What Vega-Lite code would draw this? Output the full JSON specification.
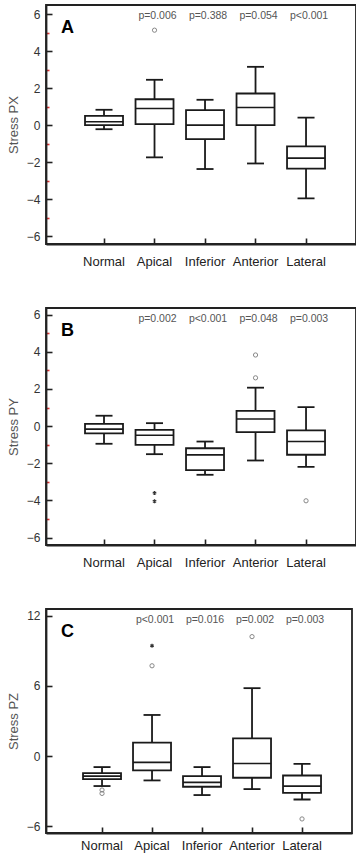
{
  "$schema": "https://vega.github.io/schema/vega-lite/v6.json",
  "padding": {"left": 6, "top": 4, "right": 0, "bottom": 0},
  "background": "white",
  "spacing": 38,
  "config": {
    "font": "Liberation Sans",
    "view": {"stroke": "#222", "strokeWidth": 1.8},
    "axis": {"domainColor": "#222", "domainWidth": 1.8, "tickColor": "#222", "tickWidth": 1.6, "labelFont": "Liberation Sans", "titleFont": "Liberation Sans", "grid": false},
    "title": {"font": "Liberation Sans"},
    "tick": {"opacity": 1},
    "point": {"opacity": 1}
  },
  "datasets": {
    "boxes": [
      {"panel": "A", "cat": "Normal", "lo": -0.22, "q1": 0.0, "med": 0.18, "q3": 0.5, "hi": 0.83},
      {"panel": "A", "cat": "Apical", "lo": -1.74, "q1": 0.05, "med": 0.9, "q3": 1.4, "hi": 2.45},
      {"panel": "A", "cat": "Inferior", "lo": -2.37, "q1": -0.76, "med": 0.0, "q3": 0.81, "hi": 1.37},
      {"panel": "A", "cat": "Anterior", "lo": -2.07, "q1": 0.0, "med": 0.95, "q3": 1.71, "hi": 3.15},
      {"panel": "A", "cat": "Lateral", "lo": -3.96, "q1": -2.35, "med": -1.78, "q3": -1.15, "hi": 0.41},
      {"panel": "B", "cat": "Normal", "lo": -0.95, "q1": -0.39, "med": -0.16, "q3": 0.12, "hi": 0.56},
      {"panel": "B", "cat": "Apical", "lo": -1.51, "q1": -1.01, "med": -0.49, "q3": -0.2, "hi": 0.16},
      {"panel": "B", "cat": "Inferior", "lo": -2.62, "q1": -2.37, "med": -1.55, "q3": -1.19, "hi": -0.83},
      {"panel": "B", "cat": "Anterior", "lo": -1.85, "q1": -0.32, "med": 0.38, "q3": 0.82, "hi": 2.07},
      {"panel": "B", "cat": "Lateral", "lo": -2.19, "q1": -1.54, "med": -0.83, "q3": -0.23, "hi": 1.02},
      {"panel": "C", "cat": "Normal", "lo": -2.56, "q1": -1.97, "med": -1.71, "q3": -1.45, "hi": -0.94},
      {"panel": "C", "cat": "Apical", "lo": -2.08, "q1": -1.22, "med": -0.54, "q3": 1.14, "hi": 3.51},
      {"panel": "C", "cat": "Inferior", "lo": -3.33, "q1": -2.62, "med": -2.25, "q3": -1.71, "hi": -0.94},
      {"panel": "C", "cat": "Anterior", "lo": -2.82, "q1": -1.85, "med": -0.63, "q3": 1.51, "hi": 5.8},
      {"panel": "C", "cat": "Lateral", "lo": -3.71, "q1": -3.14, "med": -2.57, "q3": -1.66, "hi": -0.66}
    ],
    "outliers": [
      {"panel": "A", "cat": "Apical", "v": 5.13, "kind": "circle"},
      {"panel": "B", "cat": "Apical", "v": -3.6, "kind": "star"},
      {"panel": "B", "cat": "Apical", "v": -4.05, "kind": "star"},
      {"panel": "B", "cat": "Anterior", "v": 3.83, "kind": "circle"},
      {"panel": "B", "cat": "Anterior", "v": 2.6, "kind": "circle"},
      {"panel": "B", "cat": "Lateral", "v": -4.02, "kind": "circle"},
      {"panel": "C", "cat": "Normal", "v": -2.9, "kind": "circle"},
      {"panel": "C", "cat": "Normal", "v": -3.19, "kind": "circle"},
      {"panel": "C", "cat": "Apical", "v": 7.71, "kind": "circle"},
      {"panel": "C", "cat": "Apical", "v": 9.43, "kind": "star"},
      {"panel": "C", "cat": "Anterior", "v": 10.2, "kind": "circle"},
      {"panel": "C", "cat": "Lateral", "v": -5.37, "kind": "circle"}
    ],
    "pvals": [
      {"panel": "A", "cat": "Apical", "label": "p=0.006"},
      {"panel": "A", "cat": "Inferior", "label": "p=0.388"},
      {"panel": "A", "cat": "Anterior", "label": "p=0.054"},
      {"panel": "A", "cat": "Lateral", "label": "p<0.001"},
      {"panel": "B", "cat": "Apical", "label": "p=0.002"},
      {"panel": "B", "cat": "Inferior", "label": "p<0.001"},
      {"panel": "B", "cat": "Anterior", "label": "p=0.048"},
      {"panel": "B", "cat": "Lateral", "label": "p=0.003"},
      {"panel": "C", "cat": "Apical", "label": "p<0.001"},
      {"panel": "C", "cat": "Inferior", "label": "p=0.016"},
      {"panel": "C", "cat": "Anterior", "label": "p=0.002"},
      {"panel": "C", "cat": "Lateral", "label": "p=0.003"}
    ]
  },
  "vconcat": [
    {
      "width": 310, "height": 239,
      "title": {"text": "A", "anchor": "start", "orient": "top", "frame": "group", "offset": -46, "dx": 15, "fontSize": 18, "fontWeight": "bold", "color": "#000", "baseline": "alphabetic"},
      "resolve": {"axis": {"y": "independent"}},
      "encoding": {
        "x": {"field": "cat", "type": "nominal", "scale": {"domain": ["Normal", "Apical", "Inferior", "Anterior", "Lateral"], "paddingInner": 0, "paddingOuter": 0.569, "align": 0.57}, "axis": {"title": null, "labelAngle": 0, "tickSize": -6, "labelPadding": 17, "labelFontSize": 13, "labelColor": "#222"}}
      },
      "layer": [
        {"data": {"name": "boxes"}, "transform": [{"filter": "datum.panel === 'A'"}], "mark": {"type": "rule", "color": "#1a1a1a", "strokeWidth": 1.8},
         "encoding": {"y": {"field": "lo", "type": "quantitative", "scale": {"domain": [-6.42, 6.49], "nice": false, "zero": false},
           "axis": {"orient": "left", "title": "Stress PX", "values": [-6, -5, -4, -3, -2, -1, 0, 1, 2, 3, 4, 5, 6], "labelExpr": "(datum.value + 6) % 4 === 0 ? datum.label : ''", "tickColor": {"condition": {"test": "datum.value % 2 !== 0", "value": "#d33"}, "value": "#222"}, "tickSize": {"condition": {"test": "datum.value % 2 !== 0", "value": -3}, "value": -6}, "labelPadding": 12, "labelFontSize": 12, "labelColor": "#333", "titleFontSize": 13, "titleFontWeight": "normal", "titleColor": "#555", "titlePadding": 6}},
           "y2": {"field": "hi"}}},
        {"data": {"name": "boxes"}, "transform": [{"filter": "datum.panel === 'A'"}], "mark": {"type": "bar", "width": 38, "fill": "white", "stroke": "#1a1a1a", "strokeWidth": 1.8},
         "encoding": {"y": {"field": "q1", "type": "quantitative", "axis": {"orient": "left", "title": null, "values": [-4, 0, 4], "domain": false, "tickColor": "transparent", "tickSize": -6, "labelPadding": 12, "labelFontSize": 12, "labelColor": "#333"}}, "y2": {"field": "q3"}}},
        {"data": {"name": "boxes"}, "transform": [{"filter": "datum.panel === 'A'"}], "mark": {"type": "tick", "size": 38, "thickness": 1.6, "color": "#1a1a1a", "opacity": 1},
         "encoding": {"y": {"field": "med", "type": "quantitative", "axis": null}}},
        {"data": {"name": "boxes"}, "transform": [{"filter": "datum.panel === 'A'"}], "mark": {"type": "tick", "size": 17, "thickness": 1.8, "color": "#1a1a1a", "opacity": 1},
         "encoding": {"y": {"field": "lo", "type": "quantitative", "axis": null}}},
        {"data": {"name": "boxes"}, "transform": [{"filter": "datum.panel === 'A'"}], "mark": {"type": "tick", "size": 17, "thickness": 1.8, "color": "#1a1a1a", "opacity": 1},
         "encoding": {"y": {"field": "hi", "type": "quantitative", "axis": null}}},
        {"data": {"name": "outliers"}, "transform": [{"filter": "datum.panel === 'A' && datum.kind === 'circle'"}], "mark": {"type": "point", "shape": "circle", "filled": false, "stroke": "#888", "strokeWidth": 1, "size": 18},
         "encoding": {"y": {"field": "v", "type": "quantitative", "axis": null}}},
        {"data": {"name": "pvals"}, "transform": [{"filter": "datum.panel === 'A'"}], "mark": {"type": "text", "fontSize": 10.5, "color": "#555", "dx": 3, "baseline": "middle"},
         "encoding": {"y": {"datum": 5.9, "type": "quantitative", "axis": null}, "text": {"field": "label"}}}
      ]
    },
    {
      "width": 310, "height": 237,
      "title": {"text": "B", "anchor": "start", "orient": "top", "frame": "group", "offset": -46, "dx": 15, "fontSize": 18, "fontWeight": "bold", "color": "#000", "baseline": "alphabetic"},
      "resolve": {"axis": {"y": "independent"}},
      "encoding": {
        "x": {"field": "cat", "type": "nominal", "scale": {"domain": ["Normal", "Apical", "Inferior", "Anterior", "Lateral"], "paddingInner": 0, "paddingOuter": 0.569, "align": 0.57}, "axis": {"title": null, "labelAngle": 0, "tickSize": -6, "labelPadding": 17, "labelFontSize": 13, "labelColor": "#222"}}
      },
      "layer": [
        {"data": {"name": "boxes"}, "transform": [{"filter": "datum.panel === 'B'"}], "mark": {"type": "rule", "color": "#1a1a1a", "strokeWidth": 1.8},
         "encoding": {"y": {"field": "lo", "type": "quantitative", "scale": {"domain": [-6.4, 6.36], "nice": false, "zero": false},
           "axis": {"orient": "left", "title": "Stress PY", "values": [-6, -5, -4, -3, -2, -1, 0, 1, 2, 3, 4, 5, 6], "labelExpr": "(datum.value + 6) % 4 === 0 ? datum.label : ''", "tickColor": {"condition": {"test": "datum.value % 2 !== 0", "value": "#d33"}, "value": "#222"}, "tickSize": {"condition": {"test": "datum.value % 2 !== 0", "value": -3}, "value": -6}, "labelPadding": 12, "labelFontSize": 12, "labelColor": "#333", "titleFontSize": 13, "titleFontWeight": "normal", "titleColor": "#555", "titlePadding": 6}},
           "y2": {"field": "hi"}}},
        {"data": {"name": "boxes"}, "transform": [{"filter": "datum.panel === 'B'"}], "mark": {"type": "bar", "width": 38, "fill": "white", "stroke": "#1a1a1a", "strokeWidth": 1.8},
         "encoding": {"y": {"field": "q1", "type": "quantitative", "axis": {"orient": "left", "title": null, "values": [-4, 0, 4], "domain": false, "tickColor": "transparent", "tickSize": -6, "labelPadding": 12, "labelFontSize": 12, "labelColor": "#333"}}, "y2": {"field": "q3"}}},
        {"data": {"name": "boxes"}, "transform": [{"filter": "datum.panel === 'B'"}], "mark": {"type": "tick", "size": 38, "thickness": 1.6, "color": "#1a1a1a", "opacity": 1},
         "encoding": {"y": {"field": "med", "type": "quantitative", "axis": null}}},
        {"data": {"name": "boxes"}, "transform": [{"filter": "datum.panel === 'B'"}], "mark": {"type": "tick", "size": 17, "thickness": 1.8, "color": "#1a1a1a", "opacity": 1},
         "encoding": {"y": {"field": "lo", "type": "quantitative", "axis": null}}},
        {"data": {"name": "boxes"}, "transform": [{"filter": "datum.panel === 'B'"}], "mark": {"type": "tick", "size": 17, "thickness": 1.8, "color": "#1a1a1a", "opacity": 1},
         "encoding": {"y": {"field": "hi", "type": "quantitative", "axis": null}}},
        {"data": {"name": "outliers"}, "transform": [{"filter": "datum.panel === 'B' && datum.kind === 'circle'"}], "mark": {"type": "point", "shape": "circle", "filled": false, "stroke": "#888", "strokeWidth": 1, "size": 18},
         "encoding": {"y": {"field": "v", "type": "quantitative", "axis": null}}},
        {"data": {"name": "outliers"}, "transform": [{"filter": "datum.panel === 'B' && datum.kind === 'star'"}], "mark": {"type": "point", "shape": "M0,-1L0,1M-0.87,-0.5L0.87,0.5M-0.87,0.5L0.87,-0.5", "filled": false, "stroke": "#333", "strokeWidth": 1.2, "size": 16},
         "encoding": {"y": {"field": "v", "type": "quantitative", "axis": null}}},
        {"data": {"name": "pvals"}, "transform": [{"filter": "datum.panel === 'B'"}], "mark": {"type": "text", "fontSize": 10.5, "color": "#555", "dx": 3, "baseline": "middle"},
         "encoding": {"y": {"datum": 5.77, "type": "quantitative", "axis": null}, "text": {"field": "label"}}}
      ]
    },
    {
      "width": 306, "height": 224,
      "title": {"text": "C", "anchor": "start", "orient": "top", "frame": "group", "offset": -46, "dx": 15, "fontSize": 18, "fontWeight": "bold", "color": "#000", "baseline": "alphabetic"},
      "encoding": {
        "x": {"field": "cat", "type": "nominal", "scale": {"domain": ["Normal", "Apical", "Inferior", "Anterior", "Lateral"], "paddingInner": 0, "paddingOuter": 0.56, "align": 0.554}, "axis": {"title": null, "labelAngle": 0, "tickSize": -6, "labelPadding": 12, "labelFontSize": 13, "labelColor": "#222"}}
      },
      "layer": [
        {"data": {"name": "boxes"}, "transform": [{"filter": "datum.panel === 'C'"}], "mark": {"type": "rule", "color": "#1a1a1a", "strokeWidth": 1.8},
         "encoding": {"y": {"field": "lo", "type": "quantitative", "scale": {"domain": [-6.57, 12.56], "nice": false, "zero": false},
           "axis": {"title": "Stress PZ", "values": [-6, -3, 0, 3, 6, 9, 12], "labelExpr": "datum.value % 6 === 0 ? datum.label : ''", "tickColor": {"condition": {"test": "datum.value % 6 !== 0", "value": "#888"}, "value": "#222"}, "tickSize": {"condition": {"test": "datum.value % 6 !== 0", "value": -3}, "value": -6}, "labelPadding": 12, "labelFontSize": 12, "labelColor": "#333", "titleFontSize": 13, "titleFontWeight": "normal", "titleColor": "#555", "titlePadding": 6}},
           "y2": {"field": "hi"}}},
        {"data": {"name": "boxes"}, "transform": [{"filter": "datum.panel === 'C'"}], "mark": {"type": "bar", "width": 38, "fill": "white", "stroke": "#1a1a1a", "strokeWidth": 1.8},
         "encoding": {"y": {"field": "q1", "type": "quantitative"}, "y2": {"field": "q3"}}},
        {"data": {"name": "boxes"}, "transform": [{"filter": "datum.panel === 'C'"}], "mark": {"type": "tick", "size": 38, "thickness": 1.6, "color": "#1a1a1a", "opacity": 1},
         "encoding": {"y": {"field": "med", "type": "quantitative"}}},
        {"data": {"name": "boxes"}, "transform": [{"filter": "datum.panel === 'C'"}], "mark": {"type": "tick", "size": 17, "thickness": 1.8, "color": "#1a1a1a", "opacity": 1},
         "encoding": {"y": {"field": "lo", "type": "quantitative"}}},
        {"data": {"name": "boxes"}, "transform": [{"filter": "datum.panel === 'C'"}], "mark": {"type": "tick", "size": 17, "thickness": 1.8, "color": "#1a1a1a", "opacity": 1},
         "encoding": {"y": {"field": "hi", "type": "quantitative"}}},
        {"data": {"name": "outliers"}, "transform": [{"filter": "datum.panel === 'C' && datum.kind === 'circle'"}], "mark": {"type": "point", "shape": "circle", "filled": false, "stroke": "#888", "strokeWidth": 1, "size": 18},
         "encoding": {"y": {"field": "v", "type": "quantitative"}}},
        {"data": {"name": "outliers"}, "transform": [{"filter": "datum.panel === 'C' && datum.kind === 'star'"}], "mark": {"type": "point", "shape": "M0,-1L0,1M-0.87,-0.5L0.87,0.5M-0.87,0.5L0.87,-0.5", "filled": false, "stroke": "#333", "strokeWidth": 1.2, "size": 16},
         "encoding": {"y": {"field": "v", "type": "quantitative"}}},
        {"data": {"name": "pvals"}, "transform": [{"filter": "datum.panel === 'C'"}], "mark": {"type": "text", "fontSize": 10.5, "color": "#555", "dx": 3, "baseline": "middle"},
         "encoding": {"y": {"datum": 11.6, "type": "quantitative"}, "text": {"field": "label"}}}
      ]
    }
  ]
}
